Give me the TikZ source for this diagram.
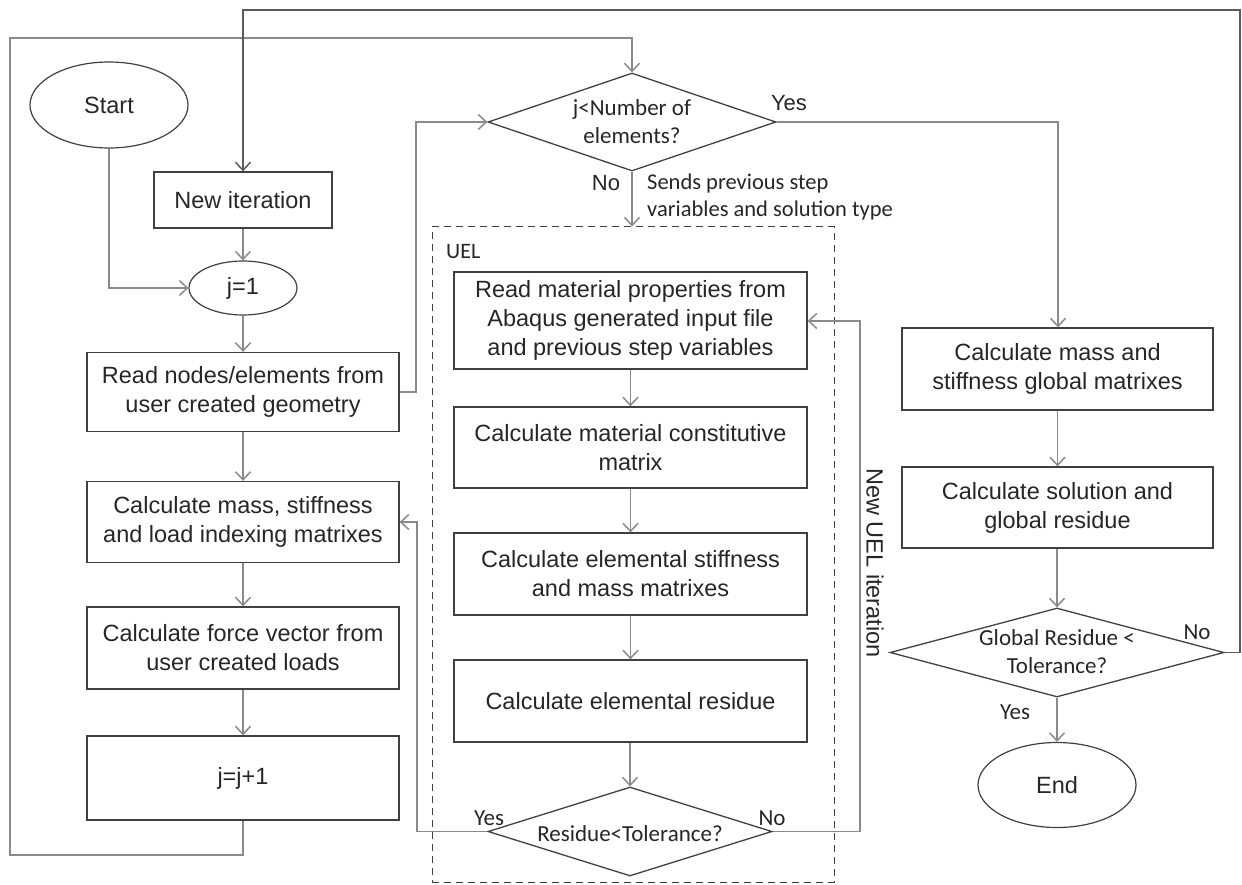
\documentclass[tikz,border=0pt]{standalone}
\usepackage{fontspec}
\setmainfont{Liberation Sans}
\newfontfamily\calfont{Carlito}
\usetikzlibrary{shapes.geometric,arrows.meta}
\definecolor{boxc}{HTML}{404040}
\definecolor{linec}{HTML}{8A8A8A}
\definecolor{topc}{HTML}{5A5A5A}
\definecolor{txtc}{HTML}{262626}
\begin{document}
\begin{tikzpicture}[x=1pt,y=-1pt,
  every node/.style={text=txtc},
  box/.style={draw=boxc,line width=1.3pt,align=center,inner sep=0pt,font=\fontsize{23.5}{29}\selectfont},
  oval/.style={ellipse,draw=boxc,line width=1.2pt,inner sep=0pt,font=\fontsize{23.5}{29}\selectfont},
  dia/.style={diamond,draw=boxc,line width=1.3pt,inner sep=0pt},
  dtext/.style={align=center,inner sep=0pt,font=\calfont\fontsize{23}{28}\selectfont},
  dlab/.style={inner sep=0pt,font=\calfont\fontsize{23}{28}\selectfont},
  alab/.style={inner sep=0pt,font=\fontsize{22}{27}\selectfont},
  conn/.style={draw=linec,line width=1.5pt,-{Straight Barb[length=8pt,width=15pt,line width=1.5pt]}},
  dashbox/.style={draw=boxc,line width=1pt,dash pattern=on 7pt off 5pt,inner sep=0pt}
]
\useasboundingbox (0,0) rectangle (1242,885);

% left column
\node[oval,minimum width=158pt,minimum height=86pt] (start) at (109,105) {Start};
\node[box,minimum width=178pt,minimum height=56pt] (newit) at (243,200) {New iteration};
\node[oval,minimum width=108pt,minimum height=54pt] (j1) at (243,288) {j=1};
\node[box,minimum width=312pt,minimum height=79pt] (readn) at (243,392) {Read nodes/elements from\\user created geometry};
\node[box,minimum width=312pt,minimum height=81pt] (cmass) at (243,522) {Calculate mass, stiffness\\and load indexing matrixes};
\node[box,minimum width=312pt,minimum height=82pt] (cforce) at (243,648) {Calculate force vector from\\user created loads};
\node[box,minimum width=312pt,minimum height=84pt] (jj) at (243,778) {j=j+1};

% decision 1
\node[dia,minimum width=288pt,minimum height=98pt] (d1) at (632,122) {};
\node[dtext] (d1t) at (632,122) {j<Number of\\elements?};

% UEL
\node[dashbox,minimum width=402pt,minimum height=655pt] (uel) at (633,554.5) {};
\node[dlab,anchor=west,font=\calfont\fontsize{22}{27}\selectfont] (uellab) at (446,252) {UEL};
\node[box,minimum width=353pt,minimum height=97pt] (readm) at (630.5,320.5) {Read material properties from\\Abaqus generated input file\\and previous step variables};
\node[box,minimum width=353pt,minimum height=81pt] (cconst) at (630.5,447.5) {Calculate material constitutive\\matrix};
\node[box,minimum width=353pt,minimum height=82pt] (cstiff) at (630.5,574) {Calculate elemental stiffness\\and mass matrixes};
\node[box,minimum width=353pt,minimum height=82pt] (cres) at (630.5,701) {Calculate elemental residue};
\node[dia,minimum width=284pt,minimum height=89pt] (d2) at (630,831.5) {};
\node[dtext] (d2t) at (630,834) {Residue<Tolerance?};

% right column
\node[box,minimum width=311pt,minimum height=82pt] (cglob) at (1057.5,369) {Calculate mass and\\stiffness global matrixes};
\node[box,minimum width=311pt,minimum height=81pt] (csol) at (1057.5,507.5) {Calculate solution and\\global residue};
\node[dia,minimum width=334pt,minimum height=89pt] (d3) at (1057,652.5) {};
\node[dtext] (d3t) at (1057,652) {Global Residue <\\Tolerance?};
\node[oval,minimum width=158pt,minimum height=85pt] (endn) at (1057,785) {End};

% labels
\node[alab] (y1) at (789,103) {Yes};
\node[alab] (n1) at (606,183) {No};
\node[dtext,align=left,anchor=west,font=\calfont\fontsize{22.5}{27}\selectfont] (sends) at (647,197) {Sends previous step\\variables and solution type};
\node[dlab] (y2) at (489,818) {Yes};
\node[dlab] (n2) at (772,818) {No};
\node[dlab] (n3) at (1197,632) {No};
\node[dlab] (y3) at (1015,712) {Yes};
\node[inner sep=0pt,rotate=-90,font=\fontsize{23.5}{29}\selectfont] (newuel) at (875,563) {New UEL iteration};

% coordinates
\coordinate (topR) at (1240,10);
\coordinate (topL) at (243,10);

% connectors
\draw[conn] (start.south) |- (j1.west);
\draw[conn] (newit.south) -- (j1.north);
\draw[conn] (j1.south) -- (readn.north);
\draw[conn] (readn.south) -- (cmass.north);
\draw[conn] (cmass.south) -- (cforce.north);
\draw[conn] (cforce.south) -- (jj.north);
\draw[conn] (jj.south) -- (243,855) -- (10,855) -- (10,38) -- (632,38) -- (d1.north);
\draw[conn] (readn.east) -- (416,392) -- (416,122) -- (d1.west);
\draw[conn] (d1.east) -- (1058,122) -- (cglob.north -| 1058,0);
\draw[conn] (d1.south) -- (d1.south |- uel.north);
\draw[conn] (readm.south) -- (cconst.north);
\draw[conn] (cconst.south) -- (cstiff.north);
\draw[conn] (cstiff.south) -- (cres.north);
\draw[conn] (cres.south -| d2.north) -- (d2.north);
\draw[conn] (d2.west) -- (417,831.5) -- (417,522) -- (cmass.east);
\draw[conn] (d2.east) -- (860,831.5) -- (860,321) -- (readm.east |- 0,321);
\draw[conn] (cglob.south) -- (csol.north);
\draw[conn] (csol.south -| d3.north) -- (d3.north);
\draw[conn] (d3.south) -- (endn.north);
\draw[conn,draw=topc] (d3.east) -- (1240,652.5) -- (topR) -- (topL) -- (newit.north);
\end{tikzpicture}
\end{document}
